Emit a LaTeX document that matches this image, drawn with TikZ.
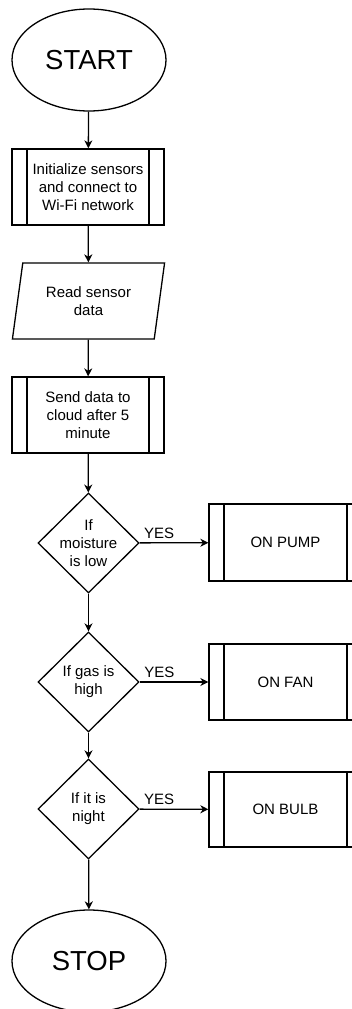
\documentclass[tikz,border=0pt]{standalone}
\usepackage{fontspec}
\setmainfont{Liberation Sans}
\usetikzlibrary{shapes.geometric, arrows.meta}

\tikzset{
    terminal/.style={draw, ellipse, minimum width=154pt, minimum height=102pt, inner sep=0pt, font=\fontsize{27.5}{30}\selectfont},
    procbox/.style={draw, rectangle, minimum width=#1, minimum height=76pt, inner sep=0pt, align=center,
        path picture={\draw ([xshift=15pt]path picture bounding box.north west) -- ([xshift=15pt]path picture bounding box.south west)
            ([xshift=-15pt]path picture bounding box.north east) -- ([xshift=-15pt]path picture bounding box.south east);}},
    procbox/.default=152pt,
    iobox/.style={draw, trapezium, trapezium left angle=77, trapezium right angle=103, trapezium stretches=true,
        minimum width=153pt, minimum height=76pt, inner sep=0pt, align=center},
    decision/.style={draw, diamond, minimum width=101pt, minimum height=100pt, inner sep=0pt},
    yes/.style={pos=0, anchor=south west, inner sep=4pt},
}

\begin{document}
\begin{tikzpicture}[x=1pt, y=-1pt, line width=1.3pt, font=\fontsize{15}{18}\selectfont,
    >={Stealth[length=8pt, width=8pt, inset=2.5pt]}]
    \useasboundingbox (0,0) rectangle (352,1009);
    \clip (0,0) rectangle (352,1009);
    % Main column of the chart.
        \node[terminal] (start) at (89,60) {START};
        \node[procbox] (init) at (88,187) {Initialize sensors\\and connect to\\Wi-Fi network};
        \node[iobox] (read) at (88.5,301) {Read sensor\\data};
        \node[procbox] (send) at (88,415) {Send data to\\cloud after 5\\minute};
        \node[decision, label={[align=center]center:If\\moisture\\is low}] (moist) at (88.5,543) {};
        \node[decision, label={[align=center]center:If gas is\\high}] (gas) at (88.5,682) {};
        \node[decision, label={[align=center]center:If it is\\night}] (night) at (88.5,809) {};
        \node[terminal] (stop) at (89,961) {STOP};
    % Below nodes are the outputs.
        \node[procbox=153pt, minimum height=77pt] (pump) at (285.5,542.5) {ON PUMP};
        \node[procbox=153pt] (fan) at (285.5,682) {ON FAN};
        \node[procbox=153pt, minimum height=75pt] (bulb) at (285.5,809.5) {ON BULB};
    % Arrows between the steps.
        \draw[->] (start) -- (init);
        \draw[->] (init) -- (read);
        \draw[->] (read) -- (send);
        \draw[->] (send) -- (moist);
        \draw[->] (moist) -- (gas);
        \draw[->] (gas) -- (night);
        \draw[->] (night) -- (stop);
        \draw[->] (moist) -- node[yes] {YES} (pump);
        \draw[->] (gas) -- node[yes] {YES} (fan);
        \draw[->] (night) -- node[yes] {YES} (bulb);
\end{tikzpicture}
\end{document}
